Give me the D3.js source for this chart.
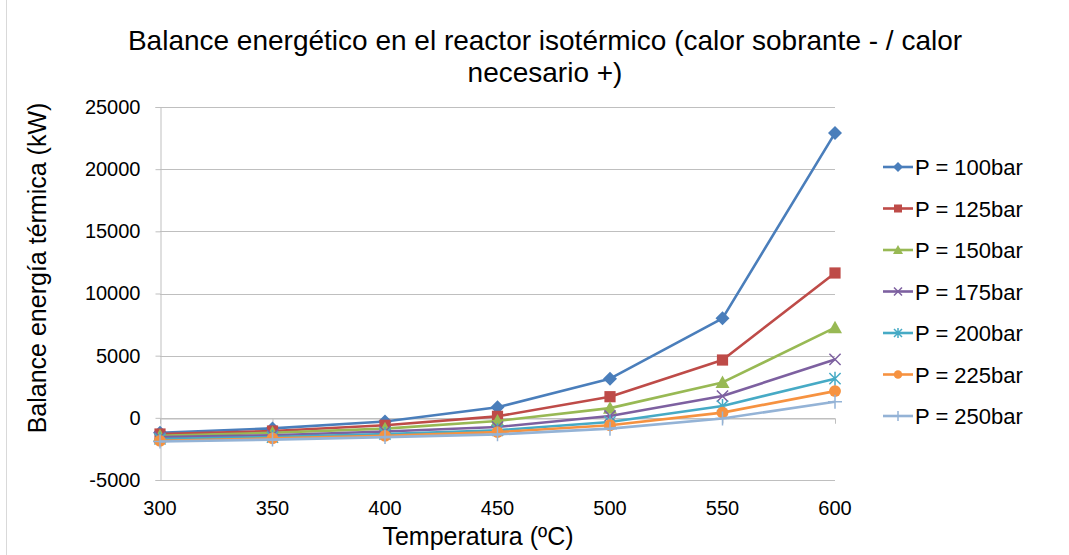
<!DOCTYPE html>
<html><head><meta charset="utf-8">
<script src="https://cdn.jsdelivr.net/npm/d3@7"></script>
<style>body{margin:0;background:#fff}svg{display:block}</style>
</head><body><svg id="c" width="1069" height="555"></svg>
<script>
const temperatures = [300, 350, 400, 450, 500, 550, 600];
const seriesNames = ["P = 100bar","P = 125bar","P = 150bar","P = 175bar","P = 200bar","P = 225bar","P = 250bar"];
const p100 = [-1200, -850, -300, 850, 3150, 8000, 22900];
const p125 = [-1300, -1060, -600, 120, 1700, 4650, 11650];
const p150 = [-1450, -1200, -870, -250, 780, 2850, 7250];
const p175 = [-1550, -1400, -1100, -740, 150, 1750, 4700];
const p200 = [-1700, -1550, -1300, -1000, -330, 950, 3150];
const p225 = [-1850, -1650, -1450, -1150, -600, 420, 2150];
const p250 = [-1900, -1750, -1550, -1330, -870, -50, 1300];
const yTicks = [-5000, 0, 5000, 10000, 15000, 20000, 25000];
const title1 = "Balance energético en el reactor isotérmico (calor sobrante - / calor";
const title2 = "necesario +)";
const xTitle = "Temperatura (ºC)";
const yTitle = "Balance energía térmica (kW)";

const allSeries = [p100,p125,p150,p175,p200,p225,p250];
const colors = ["#4A7EBB","#BE4B48","#98B954","#7D60A0","#46AAC5","#F69240","#94B3D6"];
const shapes = ["diamond","square","triangle","x","star","circle","plus"];

const svg = d3.select("#c");
const font = "'Liberation Sans', Arial, sans-serif";
const x = d3.scaleLinear().domain([300,600]).range([160,835]);
const y = d3.scaleLinear().domain([-5000,25000]).range([480,107]);
const grid = "#BFBFBF";

svg.append("rect").attr("x",6.5).attr("y",-5).attr("width",1200).attr("height",600)
  .attr("fill","none").attr("stroke","#D9D9D9");

svg.append("g").selectAll("line").data(yTicks).join("line")
  .attr("x1",160).attr("x2",835).attr("y1",d=>Math.round(y(d))+0.5).attr("y2",d=>Math.round(y(d))+0.5)
  .attr("stroke",grid).attr("stroke-width",1);

const yAxis = svg.append("g").attr("transform","translate(160.5,0)")
  .call(d3.axisLeft(y).tickValues(yTicks).tickSize(5).tickPadding(15).tickFormat(d=>String(d)));
yAxis.select(".domain").attr("stroke",grid);
yAxis.selectAll(".tick line").attr("stroke",grid);
yAxis.selectAll("text").attr("font-family",font).attr("font-size",20).attr("fill","#000");

const xAxis = svg.append("g").attr("transform",`translate(0,${Math.round(y(0))+0.5})`)
  .call(d3.axisBottom(x).tickValues(temperatures).tickSize(5).tickFormat(""));
xAxis.select(".domain").attr("stroke",grid);
xAxis.selectAll(".tick line").attr("stroke",grid);
svg.append("g").selectAll("text").data(temperatures).join("text")
  .attr("x",d=>x(d)).attr("y",515).attr("text-anchor","middle")
  .attr("font-family",font).attr("font-size",20).text(d=>d);

function marker(g, shape, color, size) {
  const s = size;
  if (shape==="diamond") g.append("path").attr("d",`M0,${-s}L${s},0L0,${s}L${-s},0Z`).attr("fill",color);
  else if (shape==="square") g.append("rect").attr("x",-s*0.8).attr("y",-s*0.8).attr("width",s*1.6).attr("height",s*1.6).attr("fill",color);
  else if (shape==="triangle") g.append("path").attr("d",`M0,${-s}L${s},${s*0.8}L${-s},${s*0.8}Z`).attr("fill",color);
  else if (shape==="x") g.append("path").attr("d",`M${-s*0.8},${-s*0.8}L${s*0.8},${s*0.8}M${-s*0.8},${s*0.8}L${s*0.8},${-s*0.8}`).attr("stroke",color).attr("stroke-width",1.5);
  else if (shape==="star") g.append("path").attr("d",`M${-s*0.8},${-s*0.8}L${s*0.8},${s*0.8}M${-s*0.8},${s*0.8}L${s*0.8},${-s*0.8}M0,${-s}L0,${s}`).attr("stroke",color).attr("stroke-width",1.5);
  else if (shape==="circle") g.append("circle").attr("r",s*0.85).attr("fill",color);
  else if (shape==="plus") g.append("path").attr("d",`M${-s},0L${s},0M0,${-s}L0,${s}`).attr("stroke",color).attr("stroke-width",1.5);
}

const line = d3.line().x((d,i)=>x(temperatures[i])).y(d=>y(d));
const plot = svg.append("g");
allSeries.forEach((vals,k)=>{
  plot.append("path").datum(vals).attr("d",line).attr("fill","none")
    .attr("stroke",colors[k]).attr("stroke-width",2.6).attr("stroke-linejoin","round");
  vals.forEach((v,i)=>{
    const g = plot.append("g").attr("transform",`translate(${x(temperatures[i])},${y(v)})`);
    marker(g, shapes[k], colors[k], 7);
  });
});

const leg = svg.append("g");
seriesNames.forEach((n,k)=>{
  const yy = 167 + k*41.5;
  leg.append("line").attr("x1",883).attr("x2",913).attr("y1",yy).attr("y2",yy)
    .attr("stroke",colors[k]).attr("stroke-width",2.6);
  const g = leg.append("g").attr("transform",`translate(898,${yy})`);
  marker(g, shapes[k], colors[k], 5);
  leg.append("text").attr("x",915).attr("y",yy+8).attr("font-family",font).attr("font-size",22).text(n);
});

svg.append("text").attr("x",545).attr("y",50).attr("text-anchor","middle")
  .attr("font-family",font).attr("font-size",28).text(title1);
svg.append("text").attr("x",545).attr("y",82).attr("text-anchor","middle")
  .attr("font-family",font).attr("font-size",28).text(title2);
svg.append("text").attr("x",478).attr("y",545).attr("text-anchor","middle")
  .attr("font-family",font).attr("font-size",25).text(xTitle);
svg.append("text").attr("transform","translate(46,268) rotate(-90)").attr("text-anchor","middle")
  .attr("font-family",font).attr("font-size",25).text(yTitle);
</script></body></html>
